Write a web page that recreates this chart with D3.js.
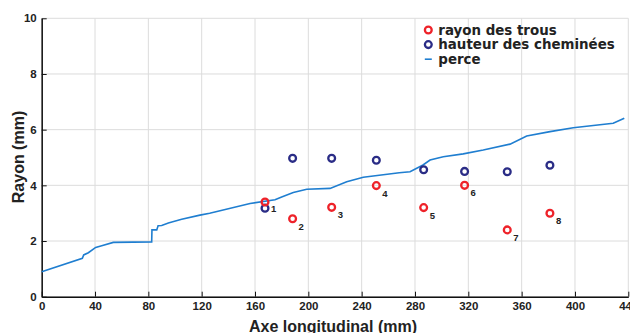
<!DOCTYPE html>
<html>
<head>
<meta charset="utf-8">
<script src="https://cdn.jsdelivr.net/npm/d3@7"></script>
<style>
    body { margin: 0; background: #fff; }
    svg { display: block; }
</style>
</head>
<body>
<div id="chart"></div>
<script>
// holes: position along the bore (mm), hole radius and chimney height (mm)
var holeX = [167.5, 188.2, 217.5, 251.0, 286.5, 317.2, 349.2, 381.2];
var holeRadius = [3.40, 2.80, 3.21, 3.99, 3.20, 4.00, 2.40, 3.00];
var chimneyHeight = [3.18, 4.97, 4.97, 4.90, 4.56, 4.50, 4.49, 4.72];
var holeLabels = ["1", "2", "3", "4", "5", "6", "7", "8"];

// bore profile (perce)
var borePos = [0, 30.5, 31.5, 35, 40.5, 45, 53.7, 82.5, 82.7, 86.3, 87.3, 90, 95, 105, 118.7, 126,
    156.3, 175, 180, 188.7, 198.8, 216.3, 228.8, 241.2, 268.2, 276.3, 286, 291.3, 301.2, 316.2,
    331.2, 351.3, 363.8, 381.3, 398.7, 428.7, 437];
var boreRadius = [0.90, 1.38, 1.50, 1.58, 1.77, 1.83, 1.95, 1.97, 2.40, 2.40, 2.55, 2.56, 2.65, 2.78, 2.93, 3.00,
    3.35, 3.48, 3.58, 3.74, 3.86, 3.89, 4.13, 4.29, 4.45, 4.49, 4.73, 4.91, 5.03, 5.13,
    5.27, 5.48, 5.77, 5.93, 6.07, 6.23, 6.41];

var xTicks = [0, 40, 80, 120, 160, 200, 240, 280, 320, 360, 400, 440];
var yTicks = [0, 2, 4, 6, 8, 10];
var legendLabels = ["rayon des trous", "hauteur des cheminées", "perce"];

var RED = "#ee2229", NAVY = "#2a2c86", BLUE = "#1f7ed0";

var width = 630, height = 333;
var svg = d3.select("#chart").append("svg")
    .attr("width", width)
    .attr("height", height);

var x = d3.scaleLinear().domain([0, 440]).range([41.7, 628.3]);
var y = d3.scaleLinear().domain([0, 10]).range([296.7, 18.3]);

// grid
svg.append("g").selectAll("line")
    .data(xTicks).enter().append("line")
    .attr("x1", function (d) { return x(d); })
    .attr("x2", function (d) { return x(d); })
    .attr("y1", y(0)).attr("y2", y(10))
    .attr("stroke", "#dcdcdc").attr("stroke-width", 1);
svg.append("g").selectAll("line")
    .data(yTicks).enter().append("line")
    .attr("x1", x(0)).attr("x2", x(440))
    .attr("y1", function (d) { return y(d); })
    .attr("y2", function (d) { return y(d); })
    .attr("stroke", "#dcdcdc").attr("stroke-width", 1);

// axes
var xAxis = svg.append("g")
    .attr("transform", "translate(0," + y(0) + ")")
    .call(d3.axisBottom(x).tickValues(xTicks).tickSize(-5).tickSizeOuter(0).tickPadding(5));
var yAxis = svg.append("g")
    .attr("transform", "translate(" + x(0) + ",0)")
    .call(d3.axisLeft(y).tickValues(yTicks).tickSize(-5).tickSizeOuter(0).tickPadding(5));

[xAxis, yAxis].forEach(function (a) {
    a.select(".domain").attr("stroke", "#111").attr("stroke-width", 1.5);
    a.selectAll(".tick line").attr("stroke", "#111");
    a.selectAll("text")
        .style("font-family", "'Liberation Sans', Arial, sans-serif")
        .style("font-weight", "bold")
        .style("font-size", "11.5px")
        .attr("fill", "#222");
});

// axis titles
svg.append("text")
    .attr("x", 333).attr("y", 332)
    .attr("text-anchor", "middle")
    .style("font-family", "'Liberation Sans', Arial, sans-serif")
    .style("font-weight", "bold")
    .style("font-size", "16px")
    .attr("fill", "#222")
    .text("Axe longitudinal (mm)");
svg.append("text")
    .attr("transform", "translate(24,157) rotate(-90)")
    .attr("text-anchor", "middle")
    .style("font-family", "'Liberation Sans', Arial, sans-serif")
    .style("font-weight", "bold")
    .style("font-size", "16px")
    .attr("fill", "#222")
    .text("Rayon (mm)");

// bore line
var bore = borePos.map(function (p, i) { return [p, boreRadius[i]]; });
var line = d3.line()
    .x(function (d) { return x(d[0]); })
    .y(function (d) { return y(d[1]); });
svg.append("path")
    .datum(bore)
    .attr("d", line)
    .attr("fill", "none")
    .attr("stroke", BLUE)
    .attr("stroke-width", 1.6);

// chimney heights
svg.append("g").selectAll("circle")
    .data(holeX).enter().append("circle")
    .attr("cx", function (d) { return x(d); })
    .attr("cy", function (d, i) { return y(chimneyHeight[i]); })
    .attr("r", 3.4)
    .attr("fill", "none")
    .attr("stroke", NAVY)
    .attr("stroke-width", 2.3);

// hole radius
svg.append("g").selectAll("circle")
    .data(holeX).enter().append("circle")
    .attr("cx", function (d) { return x(d); })
    .attr("cy", function (d, i) { return y(holeRadius[i]); })
    .attr("r", 3.4)
    .attr("fill", "none")
    .attr("stroke", RED)
    .attr("stroke-width", 2.3);

// hole numbers
svg.append("g").selectAll("text")
    .data(holeX).enter().append("text")
    .attr("x", function (d) { return x(d) + 6; })
    .attr("y", function (d, i) {
        // hole 1 label sits beside the chimney marker
        return i === 0 ? y(chimneyHeight[i]) + 4 : y(holeRadius[i]) + 11;
    })
    .style("font-family", "'Liberation Sans', Arial, sans-serif")
    .style("font-weight", "bold")
    .style("font-size", "9.5px")
    .attr("fill", "#222")
    .text(function (d, i) { return holeLabels[i]; });

// legend
var legend = svg.append("g").attr("transform", "translate(428.3,30)");
var legendRows = legend.selectAll("g")
    .data(legendLabels).enter().append("g")
    .attr("transform", function (d, i) { return "translate(0," + (i * 14.6) + ")"; });
legendRows.each(function (d, i) {
    var g = d3.select(this);
    if (i < 2) {
        g.append("circle")
            .attr("r", 3.4)
            .attr("fill", "none")
            .attr("stroke", i === 0 ? RED : NAVY)
            .attr("stroke-width", 2.3);
    } else {
        g.append("line")
            .attr("x1", -3.5).attr("x2", 3.5)
            .attr("stroke", BLUE).attr("stroke-width", 1.6);
    }
    g.append("text")
        .attr("x", 10).attr("y", 4.5)
        .style("font-family", "'DejaVu Sans', sans-serif")
        .style("font-weight", "bold")
        .style("font-size", "13.4px")
        .attr("fill", "#222")
        .text(d);
});
</script>
</body>
</html>
